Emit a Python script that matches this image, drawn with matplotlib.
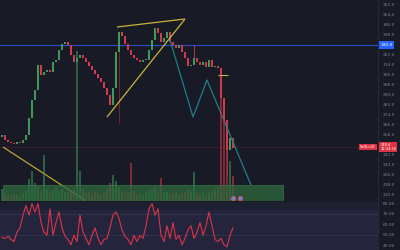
"""Dark trading chart: candles, volume band, drawings and an oscillator pane."""

import matplotlib

matplotlib.use("Agg")
import matplotlib.pyplot as plt
from matplotlib.patches import Rectangle

BG = "#181b26"
GRID_TXT = "#7d8290"
UP = "#3f9a5a"
DOWN = "#d2394b"

# ---- data -------------------------------------------------------------
closes = [
    258.0, 254.0, 252.4, 251.6, 250.8, 252.4, 251.6, 254.0, 258.0, 271.6,
    286.0, 294.0, 314.0, 306.0, 308.4, 310.0, 308.4, 316.4, 318.0, 326.0,
    330.8, 332.4, 330.0, 322.0, 316.4, 319.6, 322.0, 319.6, 316.4, 313.2,
    310.0, 306.8, 303.6, 300.4, 295.6, 290.0, 282.0, 295.6, 324.4, 340.4,
    337.2, 330.8, 326.0, 322.0, 319.6, 318.0, 316.4, 318.0, 318.0, 326.0,
    334.0, 343.6, 339.6, 332.4, 335.6, 340.4, 332.4, 330.0, 327.6, 330.0,
    324.4, 319.6, 313.2, 314.0, 319.6, 316.4, 314.0, 316.4, 312.4, 318.0,
    312.4, 313.2, 311.6, 287.6, 270.0, 246.0, 255.6, 247.6,
]
first_open = 256.0
wick_lows = {39: 267.6, 75: 224.4}
wick_highs = {64: 330.0}

volumes = [
    12, 8, 6, 5, 7, 6, 5, 8, 10, 22, 30, 18, 14, 10, 46, 12, 9, 11, 14, 10,
    12, 9, 8, 10, 13, 150, 30, 12, 8, 9, 7, 10, 8, 6, 9, 12, 18, 26, 20, 14,
    10, 8, 9, 38, 10, 7, 8, 6, 9, 10, 12, 14, 10, 23, 8, 9, 7, 8, 10, 6,
    8, 9, 12, 10, 29, 8, 7, 9, 6, 8, 10, 12, 14, 105, 90, 60, 40, 25,
]

oscillator = [
    48, 47, 49, 46, 44, 53, 57, 69, 78, 69, 80, 72, 80, 62, 53, 50, 75, 50,
    62, 72, 57, 49, 46, 41, 50, 44, 69, 53, 47, 41, 50, 57, 47, 41, 46, 47,
    57, 69, 72, 66, 55, 49, 46, 41, 50, 44, 50, 47, 59, 75, 80, 69, 75, 50,
    44, 59, 47, 62, 46, 50, 41, 47, 55, 59, 47, 53, 62, 50, 59, 72, 59, 46,
    44, 47, 41, 39, 50, 57,
]

price_ticks = [362, 354, 346, 338, 322, 314, 306, 298, 290, 282, 274,
               266, 258, 242, 234, 226, 218, 210]
osc_ticks = [80, 70, 60, 50, 40]

# drawings (bar index, price)
wedge_low = [(35, 272.4), (61, 350.8)]
wedge_high = [(38.33, 344.4), (61, 350.8)]
trend_down = [(0.33, 248.4), (28, 205.2)]
stop_level = [(72, 306.0), (75.33, 306.0)]
zigzag = [(56, 334.0), (63.67, 272.4), (68.33, 302.0), (83, 218.0)]
blue_level = 330.0
last_price = 248.4

# ---- figure -----------------------------------------------------------
fig = plt.figure(figsize=(4, 2.5), dpi=100, facecolor=BG)
ax = fig.add_axes([0, 0.196, 0.945, 0.804], facecolor=BG)
ax_osc = fig.add_axes([0, 0, 0.945, 0.192], facecolor="#1d2030")

xmin, xmax = -0.667, 125.33

# candles
opens = [first_open] + closes[:-1]
for i, (o, c) in enumerate(zip(opens, closes)):
    col = UP if c >= o else DOWN
    h = c - o if abs(c - o) > 0.6 else 0.6
    ax.bar(i, h, bottom=o, width=0.55, color=col, linewidth=0, zorder=4)
for i, lo in wick_lows.items():
    ax.vlines(i, lo, min(opens[i], closes[i]), color="#7a2431", lw=0.7, zorder=3)
for i, hi in wick_highs.items():
    ax.vlines(i, max(opens[i], closes[i]), hi, color=DOWN, lw=0.6, zorder=3)

ax.axhline(blue_level, color="#2f4dc4", lw=0.8, zorder=2)
ax.axhline(last_price, color="#6b2a36", lw=0.5, ls=(0, (2, 2)), zorder=2)

for seg, col, lw in [(wedge_low, "#c8b43a", 0.9), (wedge_high, "#c8b43a", 0.9),
                     (trend_down, "#b8a534", 0.9), (stop_level, "#c8b43a", 0.8),
                     (zigzag, "#1f7f86", 0.9)]:
    xs, ys = zip(*seg)
    ax.plot(xs, ys, color=col, lw=lw, zorder=5, solid_capstyle="butt")

ax.set_xlim(xmin, xmax)
ax.set_ylim(205.2, 366)
ax.set_xticks([])
ax.set_yticks([])
for s in ax.spines.values():
    s.set_visible(False)
ax.spines["right"].set_visible(True)
ax.spines["right"].set_color("#2a2e3a")
ax.spines["right"].set_linewidth(0.6)

# right-hand price scale
ytr = ax.get_yaxis_transform()
for t in price_ticks:
    ax.text(1.012, t, f"{t:.1f}", transform=ytr, fontsize=3.2, color=GRID_TXT,
            va="center", ha="left", clip_on=False)
ax.text(1.006, blue_level, f"{blue_level:.1f}", transform=ytr,
        fontsize=3.2, color="white", va="center", ha="left", zorder=8,
        bbox=dict(boxstyle="square,pad=0.35", fc="#2962ff", ec="none"))
ax.text(1.006, last_price, f"{last_price:.1f}\n12:34:56", transform=ytr,
        fontsize=2.6, color="white", va="center", ha="left", zorder=8,
        linespacing=0.9,
        bbox=dict(boxstyle="square,pad=0.3", fc="#e03245", ec="none"))
ax.text(0.993, last_price, "SellLvlD", transform=ytr,
        fontsize=2.8, color="white", va="center", ha="right", zorder=8,
        bbox=dict(boxstyle="square,pad=0.3", fc="#e03245", ec="none"))

# volume on its own scale
axv = ax.twinx()
axv.set_ylim(0, 201)
axv.set_yticks([])
for s in axv.spines.values():
    s.set_visible(False)
for i, v in enumerate(volumes):
    col = UP if closes[i] >= opens[i] else DOWN
    axv.bar(i, v, width=0.45, color=col, alpha=0.55, linewidth=0, zorder=1)
axv.add_patch(Rectangle((0.33, 0), 93.3, 16, facecolor="#2f6a3e", alpha=0.75,
                        edgecolor="#3e8a55", lw=0.5, zorder=2))
axv.scatter([77, 79.33], [3, 3], s=9, facecolor="#5b8be8", edgecolor="#e04a5a",
            linewidth=0.7, zorder=6)
axv.set_xlim(xmin, xmax)

# oscillator pane
ax_osc.axhspan(36, 73.5, color="#25243d", zorder=0)
ax_osc.axhline(70, color="#4a4a63", lw=0.5, ls=(0, (2, 2)), zorder=1)
ax_osc.axhline(50, color="#4a4a63", lw=0.5, ls=(0, (2, 2)), zorder=1)
ax_osc.plot(range(len(oscillator)), oscillator, color="#d93548", lw=0.8, zorder=3)
ax_osc.set_xlim(xmin, xmax)
ax_osc.set_ylim(36, 81.5)
ax_osc.set_xticks([])
ax_osc.set_yticks([])
otr = ax_osc.get_yaxis_transform()
for t in osc_ticks:
    ax_osc.text(1.012, t, f"{t:.2f}", transform=otr, fontsize=3.2,
                color=GRID_TXT, va="center", ha="left", clip_on=False)
for s in ax_osc.spines.values():
    s.set_visible(False)
ax_osc.spines["right"].set_visible(True)
ax_osc.spines["right"].set_color("#2a2e3a")
ax_osc.spines["right"].set_linewidth(0.6)

fig.savefig("out.png", dpi=100, facecolor=BG)
